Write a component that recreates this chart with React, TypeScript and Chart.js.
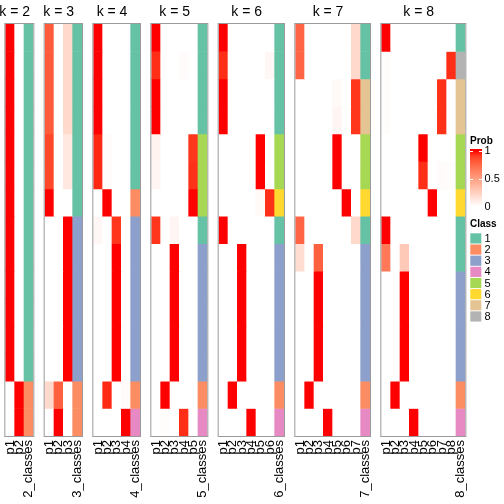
import React, { useEffect, useRef } from "react";
import { Chart, registerables } from "chart.js";
Chart.register(...registerables);

// ---------------- DATA ----------------
const N_ROWS = 15;
const K_VALUES = [2, 3, 4, 5, 6, 7, 8];
const CLASS_LABELS = ["1", "2", "3", "4", "5", "6", "7", "8"];
const CLASS_COLORS = ["#66C2A5", "#FC8D62", "#8DA0CB", "#E78AC3", "#A6D854", "#FFD92F", "#E5C494", "#B3B3B3"];
const PROB_TICKS = [1, 0.5, 0];
const PROB_TICK_LABELS = ["1", "0.5", "0"];

const K2_CLASS = [1, 1, 1, 1, 1, 1, 1, 1, 1, 1, 1, 1, 1, 2, 2];
const K2_PROB = [
  [1, 1, 1, 1, 1, 1, 1, 1, 1, 1, 1, 1, 1, 0, 0],
  [0, 0, 0, 0, 0, 0, 0, 0, 0, 0, 0, 0, 0, 1, 1],
];

const K3_CLASS = [1, 1, 1, 1, 1, 1, 1, 3, 3, 3, 3, 3, 3, 2, 2];
const K3_PROB = [
  [0.8, 0.8, 0.8, 0.8, 0.87, 0.87, 1, 0, 0, 0, 0, 0, 0, 0.2, 0],
  [0, 0, 0, 0, 0, 0, 0, 0, 0, 0, 0, 0, 0, 0.78, 1],
  [0.2, 0.2, 0.2, 0.2, 0.12, 0.12, 0, 1, 1, 1, 1, 1, 1, 0, 0],
];

const K4_CLASS = [1, 1, 1, 1, 1, 1, 2, 3, 3, 3, 3, 3, 3, 2, 4];
const K4_PROB = [
  [1, 1, 1, 1, 0.95, 0.95, 0, 0.04, 0, 0, 0, 0, 0, 0, 0],
  [0, 0, 0, 0, 0.02, 0.02, 1, 0, 0, 0, 0, 0, 0, 0.95, 0],
  [0, 0, 0, 0, 0, 0, 0, 0.92, 1, 1, 1, 1, 1, 0, 0],
  [0, 0, 0, 0, 0, 0, 0, 0, 0, 0, 0, 0, 0, 0.02, 1],
];

const K5_CLASS = [1, 1, 1, 1, 5, 5, 5, 1, 3, 3, 3, 3, 3, 2, 4];
const K5_PROB = [
  [1, 0.94, 1, 1, 0.06, 0.05, 0, 0.92, 0, 0, 0, 0, 0, 0, 0],
  [0, 0, 0, 0, 0, 0, 0, 0, 0, 0, 0, 0, 0, 1, 0.01],
  [0, 0, 0, 0, 0, 0, 0, 0.05, 1, 1, 1, 1, 1, 0, 0],
  [0, 0.02, 0, 0, 0, 0, 0, 0, 0, 0, 0, 0, 0, 0, 0.94],
  [0, 0, 0, 0, 0.92, 0.93, 1, 0, 0, 0, 0, 0, 0, 0, 0],
];

const K6_CLASS = [1, 1, 1, 1, 5, 5, 6, 1, 3, 3, 3, 3, 3, 2, 4];
const K6_PROB = [
  [1, 0.94, 1, 1, 0, 0, 0, 1, 0, 0, 0, 0, 0, 0, 0],
  [0, 0, 0, 0, 0, 0, 0, 0, 0, 0, 0, 0, 0, 1, 0],
  [0, 0, 0, 0, 0, 0, 0, 0, 1, 1, 1, 1, 1, 0, 0],
  [0, 0, 0, 0, 0, 0, 0, 0, 0, 0, 0, 0, 0, 0, 1],
  [0, 0, 0, 0, 1, 1, 0.03, 0, 0, 0, 0, 0, 0, 0, 0],
  [0, 0.04, 0, 0, 0, 0, 0.94, 0, 0, 0, 0, 0, 0, 0, 0],
];

const K7_CLASS = [1, 1, 7, 7, 5, 5, 6, 1, 3, 3, 3, 3, 3, 2, 4];
const K7_PROB = [
  [0.76, 0.76, 0, 0, 0, 0, 0, 0.76, 0.18, 0, 0, 0, 0, 0, 0],
  [0, 0, 0, 0, 0, 0, 0, 0, 0, 0, 0, 0, 0, 1, 0],
  [0, 0, 0, 0, 0, 0, 0, 0, 0.78, 1, 1, 1, 1, 0, 0],
  [0, 0, 0, 0, 0, 0, 0, 0, 0, 0, 0, 0, 0, 0, 1],
  [0, 0, 0.03, 0.05, 1, 1, 0, 0, 0, 0, 0, 0, 0, 0, 0],
  [0, 0, 0, 0, 0, 0, 1, 0, 0, 0, 0, 0, 0, 0, 0],
  [0.2, 0.2, 0.92, 0.92, 0, 0, 0, 0.2, 0, 0, 0, 0, 0, 0, 0],
];

const K8_CLASS = [1, 8, 7, 7, 5, 5, 6, 1, 1, 3, 3, 3, 3, 2, 4];
const K8_PROB = [
  [1, 0.01, 0.01, 0.01, 0, 0, 0, 1, 0.68, 0, 0, 0, 0, 0, 0],
  [0, 0, 0, 0, 0, 0, 0, 0, 0, 0, 0, 0, 0, 1, 0],
  [0, 0, 0, 0, 0, 0, 0, 0, 0.28, 1, 1, 1, 1, 0, 0],
  [0, 0, 0, 0, 0, 0, 0, 0, 0, 0, 0, 0, 0, 0, 1],
  [0, 0, 0, 0, 1, 0.94, 0, 0, 0, 0, 0, 0, 0, 0, 0],
  [0, 0, 0, 0, 0, 0, 1, 0, 0, 0, 0, 0, 0, 0, 0],
  [0, 0, 0.93, 0.93, 0, 0.02, 0, 0, 0, 0, 0, 0, 0, 0, 0],
  [0, 0.94, 0, 0, 0, 0.01, 0, 0, 0, 0, 0, 0, 0, 0, 0],
];

const PANEL_PROBS = [K2_PROB, K3_PROB, K4_PROB, K5_PROB, K6_PROB, K7_PROB, K8_PROB];
const PANEL_CLASSES = [K2_CLASS, K3_CLASS, K4_CLASS, K5_CLASS, K6_CLASS, K7_CLASS, K8_CLASS];

// ---------------- COLOUR (LAB interpolation white -> red) ----------------
function toLin(c: number) {
  c /= 255;
  return c <= 0.04045 ? c / 12.92 : Math.pow((c + 0.055) / 1.055, 2.4);
}
function fromLin(c: number) {
  const v = c <= 0.0031308 ? 12.92 * c : 1.055 * Math.pow(c, 1 / 2.4) - 0.055;
  return Math.round(Math.max(0, Math.min(1, v)) * 255);
}
function rgbToLab(r: number, g: number, b: number) {
  const R = toLin(r), G = toLin(g), B = toLin(b);
  const X = (0.4124 * R + 0.3576 * G + 0.1805 * B) / 0.95047;
  const Y = 0.2126 * R + 0.7152 * G + 0.0722 * B;
  const Z = (0.0193 * R + 0.1192 * G + 0.9505 * B) / 1.08883;
  const f = (t: number) => (t > 0.008856 ? Math.cbrt(t) : 7.787 * t + 16 / 116);
  const fx = f(X), fy = f(Y), fz = f(Z);
  return [116 * fy - 16, 500 * (fx - fy), 200 * (fy - fz)];
}
function labToRgb(L: number, a: number, b: number) {
  const fy = (L + 16) / 116;
  const fx = fy + a / 500;
  const fz = fy - b / 200;
  const inv = (t: number) => (t * t * t > 0.008856 ? t * t * t : (t - 16 / 116) / 7.787);
  const X = inv(fx) * 0.95047, Y = inv(fy), Z = inv(fz) * 1.08883;
  const R = 3.2406 * X - 1.5372 * Y - 0.4986 * Z;
  const G = -0.9689 * X + 1.8758 * Y + 0.0415 * Z;
  const B = 0.0557 * X - 0.204 * Y + 1.057 * Z;
  return `rgb(${fromLin(R)},${fromLin(G)},${fromLin(B)})`;
}
const LAB_WHITE = rgbToLab(255, 255, 255);
const LAB_RED = rgbToLab(255, 0, 0);
function probColor(v: number) {
  const t = Math.max(0, Math.min(1, v));
  return labToRgb(
    LAB_WHITE[0] + (LAB_RED[0] - LAB_WHITE[0]) * t,
    LAB_WHITE[1] + (LAB_RED[1] - LAB_WHITE[1]) * t,
    LAB_WHITE[2] + (LAB_RED[2] - LAB_WHITE[2]) * t
  );
}

// ---------------- LAYOUT ----------------
const COL_W = 28 / 3;
const GAP = 34 / 3;
const START_X = 16 / 3;
const PLOT_TOP = 24;
const PLOT_BOTTOM = 436;
const H = 504;
const MARGIN = 26;
const FONT = '"Liberation Sans", Arial, Helvetica, sans-serif';

function geom(i: number) {
  let cols = 0;
  for (let j = 0; j < i; j++) cols += K_VALUES[j] + 1;
  const plotLeft = START_X + cols * COL_W + i * GAP;
  const plotW = (K_VALUES[i] + 1) * COL_W;
  const cl = Math.floor(plotLeft - MARGIN);
  const last = i === K_VALUES.length - 1;
  const cw = last ? 504 - cl : Math.ceil(plotLeft + plotW + MARGIN) - cl;
  const padLeft = plotLeft - cl;
  const padRight = cw - padLeft - plotW;
  return { cl, cw, padLeft, padRight };
}

const framePlugin = {
  id: "frame",
  afterDatasetsDraw(chart: any) {
    const { ctx, chartArea: a } = chart;
    ctx.save();
    ctx.strokeStyle = "#9a9a9a";
    ctx.lineWidth = 1;
    ctx.strokeRect(a.left - 0.5, a.top - 0.5, a.right - a.left + 1, a.bottom - a.top + 1);
    ctx.restore();
  },
};

function titlePlugin(k: number) {
  return {
    id: "panelTitle",
    afterDraw(chart: any) {
      const x = chart.scales.x;
      const cx = (x.getPixelForValue(0) + x.getPixelForValue(k - 1)) / 2;
      const ctx = chart.ctx;
      ctx.save();
      ctx.fillStyle = "#000";
      ctx.font = `14px ${FONT}`;
      ctx.textAlign = "center";
      ctx.textBaseline = "alphabetic";
      ctx.fillText(`k = ${k}`, cx, 16);
      ctx.restore();
    },
  };
}

function legendPlugin(offsetX: number) {
  return {
    id: "sideLegend",
    afterDraw(chart: any) {
      const ctx = chart.ctx;
      const X = (px: number) => px - offsetX;
      ctx.save();
      // Prob legend
      ctx.fillStyle = "#000";
      ctx.font = `bold 10px ${FONT}`;
      ctx.textAlign = "left";
      ctx.textBaseline = "alphabetic";
      ctx.fillText("Prob", X(470), 143.5);
      const barTop = 149, barBot = 207;
      const vToY = (v: number) => 206.3 - v * 55.6;
      const grad = ctx.createLinearGradient(0, vToY(1), 0, vToY(0));
      for (let s = 0; s <= 10; s++) grad.addColorStop(s / 10, probColor(1 - s / 10));
      ctx.fillStyle = grad;
      ctx.fillRect(X(470), barTop, 12, barBot - barTop);
      ctx.strokeStyle = "#fff";
      ctx.lineWidth = 1;
      ctx.font = `11px ${FONT}`;
      ctx.textBaseline = "middle";
      PROB_TICKS.forEach((v, i) => {
        const y = Math.round(vToY(v)) + 0.5;
        ctx.beginPath();
        ctx.moveTo(X(470), y); ctx.lineTo(X(473), y);
        ctx.moveTo(X(479), y); ctx.lineTo(X(482), y);
        ctx.stroke();
        ctx.fillStyle = "#000";
        ctx.fillText(PROB_TICK_LABELS[i], X(484.5), vToY(v) + 0.5);
      });
      // Class legend
      ctx.font = `bold 10px ${FONT}`;
      ctx.textBaseline = "alphabetic";
      ctx.fillText("Class", X(470), 227);
      ctx.font = `11px ${FONT}`;
      ctx.textBaseline = "middle";
      CLASS_LABELS.forEach((lab, i) => {
        const y0 = 233.3 + i * 11.15;
        ctx.fillStyle = CLASS_COLORS[i];
        ctx.fillRect(X(470.3), y0, 11, 10.2);
        ctx.fillStyle = "#000";
        ctx.fillText(lab, X(484.5), y0 + 5.6);
      });
      ctx.restore();
    },
  };
}

function makeChart(canvas: HTMLCanvasElement, i: number) {
  const k = K_VALUES[i];
  const probs = PANEL_PROBS[i];
  const classes = PANEL_CLASSES[i];
  const labels = [...probs.map((_, c) => `p${c + 1}`), `${k}_classes`];
  const g = geom(i);
  const datasets = [];
  for (let r = 0; r < N_ROWS; r++) {
    const colors = [...probs.map((col) => probColor(col[r])), CLASS_COLORS[classes[r] - 1]];
    datasets.push({
      data: labels.map(() => [r, r + 1]),
      backgroundColor: colors,
      borderWidth: 0,
      grouped: false,
      barPercentage: 1,
      categoryPercentage: 1,
    });
  }
  const last = i === K_VALUES.length - 1;
  return new Chart(canvas, {
    type: "bar",
    data: { labels, datasets } as any,
    options: {
      responsive: false,
      animation: false,
      devicePixelRatio: 1,
      events: [],
      layout: { padding: { left: g.padLeft, right: g.padRight, top: PLOT_TOP, bottom: 0 } },
      plugins: { legend: { display: false }, tooltip: { enabled: false }, title: { display: false } },
      scales: {
        x: {
          type: "category",
          offset: true,
          grid: { display: false, drawTicks: false },
          border: { display: false },
          ticks: {
            autoSkip: false,
            minRotation: 90,
            maxRotation: 90,
            padding: 4,
            color: "#000",
            font: { family: FONT, size: 13 },
          },
          afterFit: (s: any) => {
            s.height = H - PLOT_BOTTOM;
          },
        },
        y: { type: "linear", min: 0, max: N_ROWS, reverse: true, display: false },
      },
    } as any,
    plugins: [framePlugin, titlePlugin(k), ...(last ? [legendPlugin(g.cl)] : [])],
  });
}

export default function App() {
  const refs = useRef<(HTMLCanvasElement | null)[]>([]);
  useEffect(() => {
    const charts = K_VALUES.map((_, i) => makeChart(refs.current[i]!, i));
    return () => charts.forEach((c) => c.destroy());
  }, []);
  return (
    <div style={{ position: "fixed", left: 0, top: 0, width: 504, height: 504, background: "#fff", overflow: "hidden" }}>
      {K_VALUES.map((k, i) => {
        const g = geom(i);
        return (
          <canvas
            key={k}
            ref={(el) => {
              refs.current[i] = el;
            }}
            width={g.cw}
            height={H}
            style={{ position: "absolute", left: g.cl, top: 0, width: g.cw, height: H }}
          />
        );
      })}
    </div>
  );
}
